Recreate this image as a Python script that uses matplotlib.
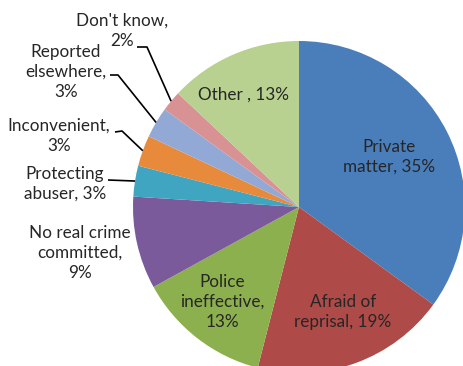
import numpy as np
import matplotlib
matplotlib.use("Agg")
import matplotlib.pyplot as plt

categories = ["Private\nmatter", "Afraid of\nreprisal", "Police\nineffective", "No real crime\ncommitted",
              "Protecting\nabuser", "Inconvenient", "Reported\nelsewhere", "Don't know", "Other "]
values = [35, 19, 13, 9, 3, 3, 3, 2, 13]
label_texts = ["Private\nmatter, 35%", "Afraid of\nreprisal, 19%", "Police\nineffective,\n13%",
               "No real crime\ncommitted,\n9%", "Protecting\nabuser, 3%", "Inconvenient,\n3%",
               "Reported\nelsewhere,\n3%", "Don't know,\n2%", "Other , 13%"]
colors = ["#4A7EBB", "#AE4A47", "#8DB04E", "#7A5A9B", "#3FA5C0", "#E88A3B", "#93A9D5", "#D99294", "#B8D090"]

W, H = 463, 366
fig = plt.figure(figsize=(W / 100, H / 100), dpi=100)
ax = fig.add_axes([0, 0, 1, 1])

cx, cy, R = 299, H - 207, 166
wedges, _ = ax.pie(values, colors=colors, startangle=90, counterclock=False,
                   center=(cx, cy), radius=R, frame=True,
                   wedgeprops=dict(linewidth=0))
ax.set_xlim(0, W)
ax.set_ylim(0, H)
ax.set_aspect("equal")
ax.axis("off")

font = dict(family=["Lato", "DejaVu Sans"], fontsize=12.3, color="#262626",
            ha="center", va="center", linespacing=1.3)

# label layout positions (image pixel coords, y from top)
label_pos = [(389, 157), (343, 312), (222, 302), (80, 253), (65, 184),
             (59, 136), (66, 72), (122, 31), (243, 95)]
# leader line start points for outside labels (layout)
leader_start = {4: [(108, 180)], 5: [(115, 132), (122, 131)],
                6: [(110, 75), (118, 75)], 7: [(137, 47), (147, 47)]}

for i, (w, txt, (lx, ly)) in enumerate(zip(wedges, label_texts, label_pos)):
    ax.text(lx, H - ly, txt, **font)
    if i in leader_start:
        ang = np.deg2rad((w.theta1 + w.theta2) / 2)
        ex, ey = cx + R * np.cos(ang), cy + R * np.sin(ang)
        pts = [(x, H - y) for x, y in leader_start[i]] + [(ex, ey)]
        xs, ys = zip(*pts)
        ax.plot(xs, ys, color="black", lw=1.2, solid_capstyle="butt")

fig.savefig("out.png", dpi=100)
